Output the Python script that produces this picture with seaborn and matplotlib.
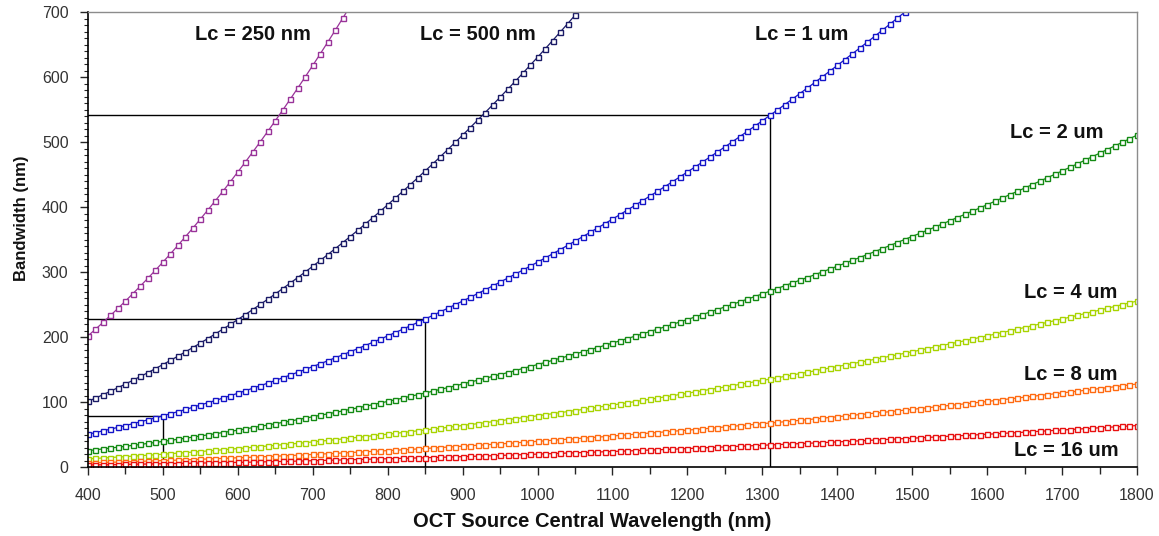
import numpy as np
import pandas as pd
import matplotlib
matplotlib.use("Agg")
import matplotlib.pyplot as plt
from matplotlib.ticker import MultipleLocator
import seaborn as sns

# wavelength grid of the sampled points (nm), one marker every 10 nm
wavelength = list(range(400, 1810, 10))

# bandwidth (nm); the steep curves stop once they leave the 0-700 window
bw_250nm = [
    201.7, 211.9, 222.4, 233.1, 244.1, 255.3, 266.8, 278.5, 290.5, 302.7,
    315.2, 327.9, 340.9, 354.2, 367.6, 381.4, 395.4, 409.6, 424.1, 438.9,
    453.9, 469.1, 484.7, 500.4, 516.4, 532.7, 549.2, 566.0, 583.0, 600.3,
    617.8, 635.6, 653.6, 671.9, 690.4, 709.2,
]
bw_500nm = [
    100.9, 106.0, 111.2, 116.6, 122.0, 127.7, 133.4, 139.3, 145.2, 151.4,
    157.6, 164.0, 170.5, 177.1, 183.8, 190.7, 197.7, 204.8, 212.1, 219.4,
    226.9, 234.6, 242.3, 250.2, 258.2, 266.3, 274.6, 283.0, 291.5, 300.1,
    308.9, 317.8, 326.8, 335.9, 345.2, 354.6, 364.1, 373.8, 383.5, 393.4,
    403.5, 413.6, 423.9, 434.3, 444.8, 455.5, 466.2, 477.1, 488.2, 499.3,
    510.6, 522.0, 533.6, 545.2, 557.0, 568.9, 581.0, 593.1, 605.4, 617.9,
    630.4, 643.1, 655.9, 668.8, 681.8, 695.0, 708.3,
]
bw_1um = [
    50.4, 53.0, 55.6, 58.3, 61.0, 63.8, 66.7, 69.6, 72.6, 75.7,
    78.8, 82.0, 85.2, 88.5, 91.9, 95.4, 98.9, 102.4, 106.0, 109.7,
    113.5, 117.3, 121.2, 125.1, 129.1, 133.2, 137.3, 141.5, 145.8, 150.1,
    154.5, 158.9, 163.4, 168.0, 172.6, 177.3, 182.1, 186.9, 191.8, 196.7,
    201.7, 206.8, 211.9, 217.1, 222.4, 227.7, 233.1, 238.6, 244.1, 249.7,
    255.3, 261.0, 266.8, 272.6, 278.5, 284.5, 290.5, 296.6, 302.7, 308.9,
    315.2, 321.5, 327.9, 334.4, 340.9, 347.5, 354.2, 360.9, 367.7, 374.5,
    381.4, 388.4, 395.4, 402.5, 409.6, 416.9, 424.1, 431.5, 438.9, 446.4,
    453.9, 461.5, 469.1, 476.9, 484.7, 492.5, 500.4, 508.4, 516.4, 524.5,
    532.7, 540.9, 549.2, 557.6, 566.0, 574.5, 583.0, 591.6, 600.3, 609.0,
    617.8, 626.7, 635.6, 644.6, 653.6, 662.7, 671.9, 681.1, 690.4, 699.8,
    709.2,
]
bw_2um = [
    25.2, 26.5, 27.8, 29.1, 30.5, 31.9, 33.4, 34.8, 36.3, 37.8,
    39.4, 41.0, 42.6, 44.3, 46.0, 47.7, 49.4, 51.2, 53.0, 54.9,
    56.7, 58.6, 60.6, 62.6, 64.6, 66.6, 68.7, 70.7, 72.9, 75.0,
    77.2, 79.4, 81.7, 84.0, 86.3, 88.7, 91.0, 93.4, 95.9, 98.4,
    100.9, 103.4, 106.0, 108.6, 111.2, 113.9, 116.6, 119.3, 122.0, 124.8,
    127.7, 130.5, 133.4, 136.3, 139.3, 142.2, 145.2, 148.3, 151.4, 154.5,
    157.6, 160.8, 164.0, 167.2, 170.5, 173.8, 177.1, 180.4, 183.8, 187.2,
    190.7, 194.2, 197.7, 201.2, 204.8, 208.4, 212.1, 215.7, 219.4, 223.2,
    226.9, 230.7, 234.6, 238.4, 242.3, 246.3, 250.2, 254.2, 258.2, 262.3,
    266.3, 270.5, 274.6, 278.8, 283.0, 287.2, 291.5, 295.8, 300.1, 304.5,
    308.9, 313.3, 317.8, 322.3, 326.8, 331.4, 335.9, 340.6, 345.2, 349.9,
    354.6, 359.3, 364.1, 368.9, 373.8, 378.6, 383.5, 388.5, 393.4, 398.4,
    403.5, 408.5, 413.6, 418.7, 423.9, 429.1, 434.3, 439.5, 444.8, 450.1,
    455.5, 460.8, 466.2, 471.7, 477.2, 482.7, 488.2, 493.7, 499.3, 505.0,
    510.6,
]
bw_4um = [
    12.6, 13.2, 13.9, 14.6, 15.3, 16.0, 16.7, 17.4, 18.2, 18.9,
    19.7, 20.5, 21.3, 22.1, 23.0, 23.8, 24.7, 25.6, 26.5, 27.4,
    28.4, 29.3, 30.3, 31.3, 32.3, 33.3, 34.3, 35.4, 36.4, 37.5,
    38.6, 39.7, 40.9, 42.0, 43.2, 44.3, 45.5, 46.7, 47.9, 49.2,
    50.4, 51.7, 53.0, 54.3, 55.6, 56.9, 58.3, 59.6, 61.0, 62.4,
    63.8, 65.3, 66.7, 68.2, 69.6, 71.1, 72.6, 74.1, 75.7, 77.2,
    78.8, 80.4, 82.0, 83.6, 85.2, 86.9, 88.5, 90.2, 91.9, 93.6,
    95.3, 97.1, 98.8, 100.6, 102.4, 104.2, 106.0, 107.9, 109.7, 111.6,
    113.5, 115.4, 117.3, 119.2, 121.2, 123.1, 125.1, 127.1, 129.1, 131.1,
    133.2, 135.2, 137.3, 139.4, 141.5, 143.6, 145.7, 147.9, 150.1, 152.3,
    154.4, 156.7, 158.9, 161.1, 163.4, 165.7, 168.0, 170.3, 172.6, 174.9,
    177.3, 179.7, 182.1, 184.5, 186.9, 189.3, 191.8, 194.2, 196.7, 199.2,
    201.7, 204.3, 206.8, 209.4, 211.9, 214.5, 217.1, 219.8, 222.4, 225.1,
    227.7, 230.4, 233.1, 235.8, 238.6, 241.3, 244.1, 246.9, 249.7, 252.5,
    255.3,
]
bw_8um = [
    6.3, 6.6, 7.0, 7.3, 7.6, 8.0, 8.3, 8.7, 9.1, 9.5,
    9.9, 10.2, 10.7, 11.1, 11.5, 11.9, 12.4, 12.8, 13.3, 13.7,
    14.2, 14.7, 15.1, 15.6, 16.1, 16.6, 17.2, 17.7, 18.2, 18.8,
    19.3, 19.9, 20.4, 21.0, 21.6, 22.2, 22.8, 23.4, 24.0, 24.6,
    25.2, 25.9, 26.5, 27.1, 27.8, 28.5, 29.1, 29.8, 30.5, 31.2,
    31.9, 32.6, 33.3, 34.1, 34.8, 35.6, 36.3, 37.1, 37.8, 38.6,
    39.4, 40.2, 41.0, 41.8, 42.6, 43.4, 44.3, 45.1, 46.0, 46.8,
    47.7, 48.5, 49.4, 50.3, 51.2, 52.1, 53.0, 53.9, 54.9, 55.8,
    56.7, 57.7, 58.6, 59.6, 60.6, 61.6, 62.6, 63.5, 64.6, 65.6,
    66.6, 67.6, 68.7, 69.7, 70.7, 71.8, 72.9, 74.0, 75.0, 76.1,
    77.2, 78.3, 79.4, 80.6, 81.7, 82.8, 84.0, 85.1, 86.3, 87.5,
    88.7, 89.8, 91.0, 92.2, 93.4, 94.7, 95.9, 97.1, 98.4, 99.6,
    100.9, 102.1, 103.4, 104.7, 106.0, 107.3, 108.6, 109.9, 111.2, 112.5,
    113.9, 115.2, 116.6, 117.9, 119.3, 120.7, 122.0, 123.4, 124.8, 126.2,
    127.7,
]
bw_16um = [
    3.2, 3.3, 3.5, 3.6, 3.8, 4.0, 4.2, 4.4, 4.5, 4.7,
    4.9, 5.1, 5.3, 5.5, 5.7, 6.0, 6.2, 6.4, 6.6, 6.9,
    7.1, 7.3, 7.6, 7.8, 8.1, 8.3, 8.6, 8.8, 9.1, 9.4,
    9.7, 9.9, 10.2, 10.5, 10.8, 11.1, 11.4, 11.7, 12.0, 12.3,
    12.6, 12.9, 13.2, 13.6, 13.9, 14.2, 14.6, 14.9, 15.3, 15.6,
    16.0, 16.3, 16.7, 17.0, 17.4, 17.8, 18.2, 18.5, 18.9, 19.3,
    19.7, 20.1, 20.5, 20.9, 21.3, 21.7, 22.1, 22.6, 23.0, 23.4,
    23.8, 24.3, 24.7, 25.2, 25.6, 26.1, 26.5, 27.0, 27.4, 27.9,
    28.4, 28.8, 29.3, 29.8, 30.3, 30.8, 31.3, 31.8, 32.3, 32.8,
    33.3, 33.8, 34.3, 34.8, 35.4, 35.9, 36.4, 37.0, 37.5, 38.1,
    38.6, 39.2, 39.7, 40.3, 40.9, 41.4, 42.0, 42.6, 43.2, 43.7,
    44.3, 44.9, 45.5, 46.1, 46.7, 47.3, 47.9, 48.6, 49.2, 49.8,
    50.4, 51.1, 51.7, 52.3, 53.0, 53.6, 54.3, 54.9, 55.6, 56.3,
    56.9, 57.6, 58.3, 59.0, 59.6, 60.3, 61.0, 61.7, 62.4, 63.1,
    63.8,
]

series_labels = ["Lc = 250 nm", "Lc = 500 nm", "Lc = 1 um", "Lc = 2 um",
                 "Lc = 4 um", "Lc = 8 um", "Lc = 16 um"]
series_values = [bw_250nm, bw_500nm, bw_1um, bw_2um, bw_4um, bw_8um, bw_16um]
series_colors = ["#993399", "#1a1a66", "#1414c8", "#138a13",
                 "#a8d400", "#ff6a10", "#e81010"]

# where each curve label sits (data coords, text centre)
label_x = [620, 921, 1353, 1693, 1712, 1712, 1706]
label_y = [666, 665, 666, 515, 268, 142, 26]

# guide lines dropped from the Lc = 1 um curve
guide_wavelengths = [500, 850, 1310]

# long-form table for seaborn
frames = []
for name, vals in zip(series_labels, series_values):
    frames.append(pd.DataFrame({"wavelength": wavelength[:len(vals)],
                                "bandwidth": vals, "series": name}))
df = pd.concat(frames, ignore_index=True)

sns.set_style("ticks")
plt.rcParams["font.family"] = ["Liberation Sans", "DejaVu Sans"]

fig = plt.figure(figsize=(11.59, 5.36), dpi=100)
ax = fig.add_axes([0.0759, 0.1287, 0.9051, 0.8489])

for name, color in zip(series_labels, series_colors):
    sub = df[df["series"] == name]
    sns.lineplot(data=sub, x="wavelength", y="bandwidth", ax=ax,
                 color=color, linewidth=0.9, marker="s", markersize=3.6,
                 markerfacecolor="white", markeredgecolor=color,
                 markeredgewidth=1.0, estimator=None, legend=False)

# black guide lines (horizontal to the y axis, vertical down to x axis)
ref = df[df["series"] == "Lc = 1 um"].set_index("wavelength")["bandwidth"]
for wl in guide_wavelengths:
    val = ref.loc[wl]
    ax.plot([400, wl], [val, val], color="black", linewidth=1.0, zorder=1)
    ax.plot([wl, wl], [0, val], color="black", linewidth=1.0, zorder=1)

for txt, tx, ty in zip(series_labels, label_x, label_y):
    ax.text(tx, ty, txt, ha="center", va="center", fontsize=14.5,
            fontweight="bold", color="#111111")

ax.set_xlim(400, 1800)
ax.set_ylim(0, 700)
ax.xaxis.set_major_locator(MultipleLocator(100))
ax.xaxis.set_minor_locator(MultipleLocator(50))
ax.yaxis.set_major_locator(MultipleLocator(100))
ax.yaxis.set_minor_locator(MultipleLocator(10))

ax.tick_params(axis="x", which="major", direction="out", length=6, width=1,
               pad=9, labelsize=11.5, labelcolor="#333333")
ax.tick_params(axis="x", which="minor", direction="out", length=5, width=1)
ax.tick_params(axis="y", which="major", direction="out", length=6, width=1,
               pad=8, labelsize=11.5, labelcolor="#333333")
ax.tick_params(axis="y", which="minor", direction="out", length=3, width=0.8)

for side in ["left", "bottom"]:
    ax.spines[side].set_color("black")
    ax.spines[side].set_linewidth(1.2)
for side in ["top", "right"]:
    ax.spines[side].set_visible(True)
    ax.spines[side].set_color("#8c8c8c")
    ax.spines[side].set_linewidth(1.0)

ax.set_xlabel("OCT Source Central Wavelength (nm)", fontsize=14.5,
              fontweight="bold", color="#111111")
ax.set_ylabel("Bandwidth (nm)", fontsize=12, fontweight="bold",
              color="#111111")
ax.xaxis.set_label_coords(0.481, -0.098)
ax.yaxis.set_label_coords(-0.056, 0.547)

fig.savefig("out.png", dpi=100, facecolor="white")
